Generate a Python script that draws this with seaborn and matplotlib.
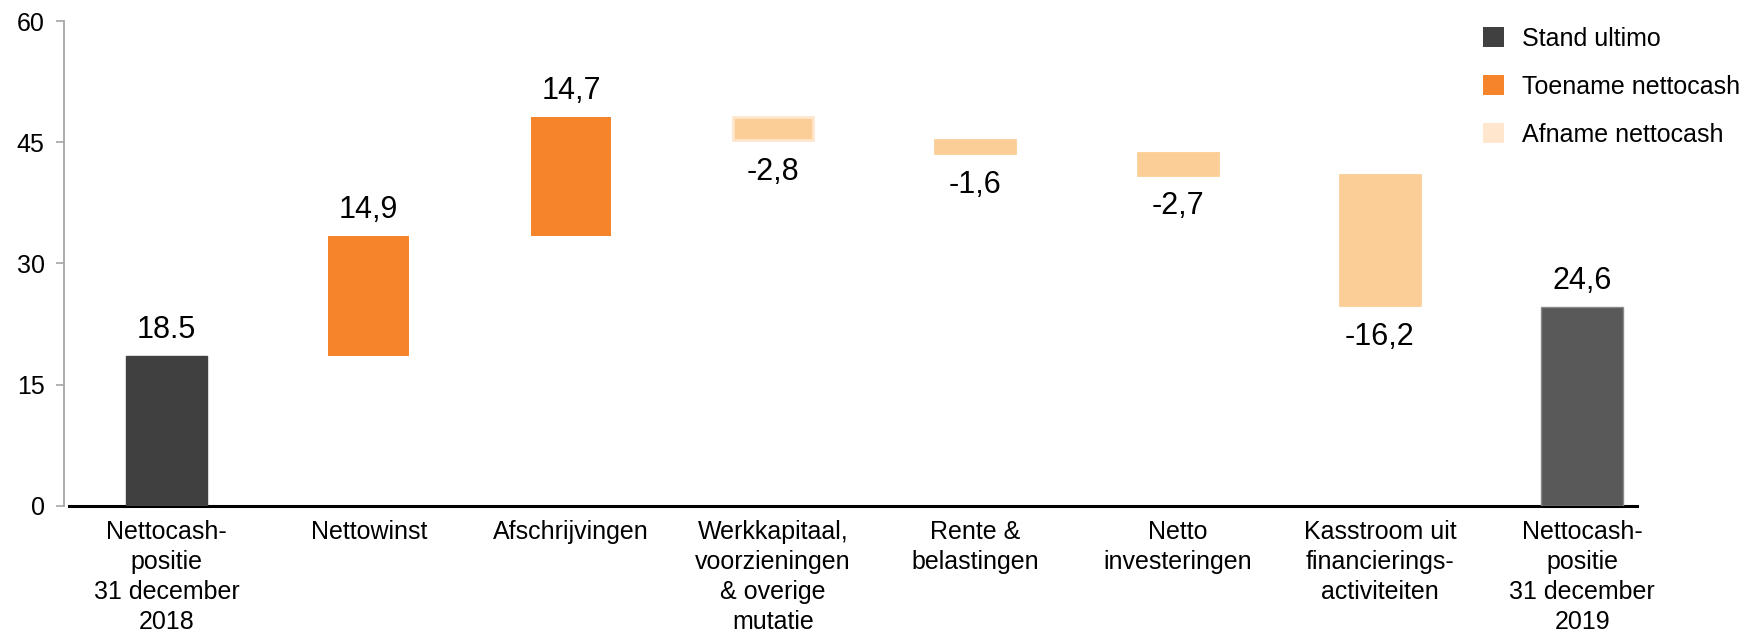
import matplotlib
matplotlib.use("Agg")
import matplotlib.pyplot as plt
import numpy as np
import pandas as pd
import seaborn as sns
from matplotlib.patches import Patch

# data
categories = [
    "Nettocash-\npositie\n31 december\n2018",
    "Nettowinst",
    "Afschrijvingen",
    "Werkkapitaal,\nvoorzieningen\n& overige\nmutatie",
    "Rente &\nbelastingen",
    "Netto\ninvesteringen",
    "Kasstroom uit\nfinancierings-\nactiviteiten",
    "Nettocash-\npositie\n31 december\n2019",
]
changes = [18.5, 14.9, 14.7, -2.8, -1.6, -2.7, -16.2, 24.6]
kinds = ["stand", "toe", "toe", "af", "af", "af", "af", "stand"]
value_labels = ["18.5", "14,9", "14,7", "-2,8", "-1,6", "-2,7", "-16,2", "24,6"]
legend_labels = ["Stand ultimo", "Toename nettocash", "Afname nettocash"]

# waterfall bases/tops
low, high = [], []
running = 0.0
for ch, kind in zip(changes, kinds):
    if kind == "stand":
        low.append(0.0)
        high.append(ch)
        running = ch
    else:
        new = running + ch
        low.append(min(running, new))
        high.append(max(running, new))
        running = new

df = pd.DataFrame({"cat": categories, "low": low, "high": high, "kind": kinds})
df["height"] = df["high"] - df["low"]

sns.set_style("white")
plt.rcParams["font.family"] = ["Liberation Sans", "DejaVu Sans"]
plt.rcParams["text.color"] = "black"
plt.rcParams["xtick.color"] = "black"
plt.rcParams["ytick.color"] = "black"

fig = plt.figure(figsize=(17.58, 6.38), dpi=100)
ax = fig.add_axes([0.0364, 0.2075, 0.931 - 0.0364, 0.9666 - 0.2075])

bar_w = 0.405

# start and end totals
for idx, (fc, ec) in zip([0, 7], [("#404040", "#404040"), ("#595959", "#8a8a8a")]):
    sub = df.iloc[[idx]]
    sns.barplot(data=sub, x="cat", y="height", order=categories, ax=ax,
                color=fc, edgecolor=ec, linewidth=1, width=bar_w,
                bottom=sub["low"].values, saturation=1)

sub = df[df["kind"] == "toe"]
sns.barplot(data=sub, x="cat", y="height", order=categories, ax=ax,
            color="#F5842A", linewidth=0, width=bar_w * 0.985,
            bottom=sub["low"].values, saturation=1)

sub = df[df["kind"] == "af"]
edge = ["#FFE6CC" if i == 3 else "#FACE96" for i in sub.index]
sns.barplot(data=sub, x="cat", y="height", order=categories, ax=ax,
            color="#FACE96", edgecolor=edge, linewidth=2, width=bar_w * 0.975,
            bottom=sub["low"].values, saturation=1)

# value labels
for i, row in df.iterrows():
    if row["kind"] == "af":
        ax.annotate(value_labels[i], (i, row["low"]), xytext=(0, -12),
                    textcoords="offset points", ha="center", va="top", fontsize=22)
    else:
        ax.annotate(value_labels[i], (i, row["high"]), xytext=(0, 8),
                    textcoords="offset points", ha="center", va="bottom", fontsize=22)

ax.set_ylim(0, 60)
ax.set_xlim(-0.507, 7.27)
ax.set_yticks([0, 15, 30, 45, 60])
ax.set_xlabel("")
ax.set_ylabel("")
ax.set_xticks(range(len(categories)))
ax.set_xticklabels(categories, fontsize=18, linespacing=1.33)
ax.tick_params(axis="x", length=0, pad=10, labelcolor="black")
ax.tick_params(axis="y", length=6, width=1.2, color="#A6A6A6", labelsize=18, pad=8,
               left=True, direction="out", labelcolor="black")

for s in ["top", "right"]:
    ax.spines[s].set_visible(False)
ax.spines["left"].set_color("#A6A6A6")
ax.spines["left"].set_linewidth(1.3)
ax.spines["bottom"].set_color("black")
ax.spines["bottom"].set_linewidth(2.2)
ax.spines["bottom"].set_bounds(-0.48, 7.27)
ax.set_zorder(1)
for sp in ax.spines.values():
    sp.set_zorder(0)

handles = [Patch(facecolor=c, edgecolor="none") for c in ["#404040", "#F5842A", "#FFE6CC"]]
fig.legend(handles, legend_labels, loc="upper left", bbox_to_anchor=(0.838, 0.974),
           frameon=False, fontsize=18, handlelength=0.85, handleheight=0.85,
           handletextpad=0.7, labelspacing=0.96, borderaxespad=0, labelcolor="black")

fig.savefig("out.png", dpi=100)
